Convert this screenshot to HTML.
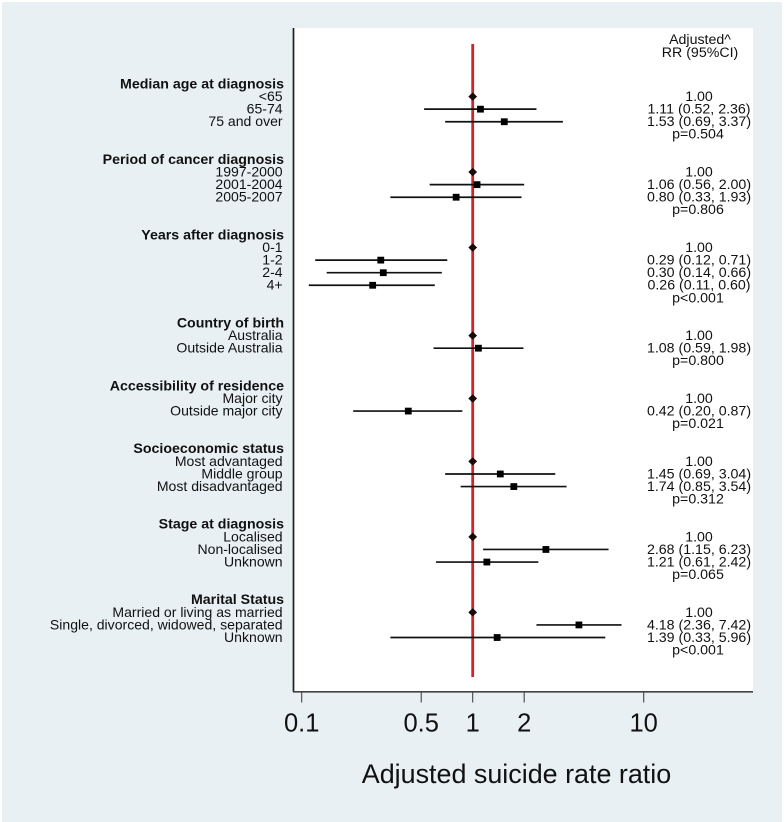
<!DOCTYPE html>
<html>
<head>
<meta charset="utf-8">
<title>Adjusted suicide rate ratio forest plot</title>
<style>
html,body{margin:0;padding:0;background:#fff}
svg{display:block;font-family:"Liberation Sans",Arial,sans-serif}
</style>
</head>
<body>
<svg id="chart" width="784" height="822" viewBox="0 0 784 822" xmlns="http://www.w3.org/2000/svg">
  <rect x="2" y="2" width="780" height="820" fill="#e8f0f3"/>
  <rect x="294" y="28" width="459" height="663" fill="#ffffff"/>
  <g id="marks"></g>
  <g id="labels"></g>
  <g id="axis"></g>
</svg>
<script>
const groupTitles = ["Median age at diagnosis","Period of cancer diagnosis","Years after diagnosis","Country of birth","Accessibility of residence","Socioeconomic status","Stage at diagnosis","Marital Status"];
const groupPValues = ["p=0.504","p=0.806","p<0.001","p=0.800","p=0.021","p=0.312","p=0.065","p<0.001"];
const rowLabels = [
  ["<65","65-74","75 and over"],
  ["1997-2000","2001-2004","2005-2007"],
  ["0-1","1-2","2-4","4+"],
  ["Australia","Outside Australia"],
  ["Major city","Outside major city"],
  ["Most advantaged","Middle group","Most disadvantaged"],
  ["Localised","Non-localised","Unknown"],
  ["Married or living as married","Single, divorced, widowed, separated","Unknown"]
];
const rateRatios = [
  [1.00,1.11,1.53],
  [1.00,1.06,0.80],
  [1.00,0.29,0.30,0.26],
  [1.00,1.08],
  [1.00,0.42],
  [1.00,1.45,1.74],
  [1.00,2.68,1.21],
  [1.00,4.18,1.39]
];
const ciLower = [
  [null,0.52,0.69],
  [null,0.56,0.33],
  [null,0.12,0.14,0.11],
  [null,0.59],
  [null,0.20],
  [null,0.69,0.85],
  [null,1.15,0.61],
  [null,2.36,0.33]
];
const ciUpper = [
  [null,2.36,3.37],
  [null,2.00,1.93],
  [null,0.71,0.66,0.60],
  [null,1.98],
  [null,0.87],
  [null,3.04,3.54],
  [null,6.23,2.42],
  [null,7.42,5.96]
];
const xTicks = [0.1,0.5,1,2,10];
const xTickLabels = ["0.1","0.5","1","2","10"];
const referenceValue = 1;

const NS = "http://www.w3.org/2000/svg";
const marks = document.getElementById("marks");
const labels = document.getElementById("labels");
const axis = document.getElementById("axis");

function xScale(v){ return 472.7 + 171 * Math.log10(v); }
function yRow(i){ return 84 + 12.58 * i; }

function make(parent, tag, attrs, txt){
  const el = document.createElementNS(NS, tag);
  for (const k in attrs) el.setAttribute(k, attrs[k]);
  if (txt !== undefined) el.textContent = txt;
  parent.appendChild(el);
  return el;
}
function slug(s){ return s.toLowerCase().replace(/[^a-z0-9]+/g,"-").replace(/^-|-$/g,""); }

const refLine = make(marks, "line", {x1:xScale(referenceValue), x2:xScale(referenceValue), y1:44, y2:677, stroke:"#d0242c", "stroke-width":2.8});



const FS = 14.2;
const ROW_FS = 14.05;
const LEFT_X = 282.6;
const RIGHT_X = 699;
const BASE = 4.4;

const head1 = make(labels, "text", {x:700, y:44, "text-anchor":"middle", "font-size":FS, fill:"#111"}, "Adjusted^");


const head2 = make(labels, "text", {x:700, y:57, "text-anchor":"middle", "font-size":FS, fill:"#111"}, "RR (95%CI)");



let row = 0;
groupTitles.forEach(function(title, g){
  const t = make(labels, "text", {x:284, y:yRow(row)+BASE, "text-anchor":"end", "font-size":FS, "font-weight":"bold", fill:"#111"}, title);
  
  
  row++;
  rowLabels[g].forEach(function(label, r){
    const y = yRow(row);
    const rr = rateRatios[g][r], lo = ciLower[g][r], hi = ciUpper[g][r];
    const tl = make(labels, "text", {x:LEFT_X, y:y+BASE, "text-anchor":"end", "font-size":ROW_FS, fill:"#111"}, label);
    
    
    const printed = lo === null ? rr.toFixed(2) : rr.toFixed(2) + " (" + lo.toFixed(2) + ", " + hi.toFixed(2) + ")";
    const tv = make(labels, "text", {x:RIGHT_X, y:y+BASE, "text-anchor":"middle", "font-size":FS, fill:"#111"}, printed);
    
    
    if (lo === null) {
      const cx = xScale(rr);
      const d = make(marks, "polygon", {points:(cx-4.4)+","+y+" "+cx+","+(y-4.2)+" "+(cx+4.4)+","+y+" "+cx+","+(y+4.2), fill:"#1c0a0a"});
      
      
    } else {
      const w = make(marks, "line", {x1:xScale(lo), x2:xScale(hi), y1:y, y2:y, stroke:"#111", "stroke-width":1.7});
      
      
      const s = make(marks, "rect", {x:xScale(rr)-3.4, y:y-3.4, width:6.8, height:6.8, fill:"#000"});
      
      
    }
    row++;
  });
  const p = make(labels, "text", {x:RIGHT_X-1, y:yRow(row)+BASE, "text-anchor":"middle", "font-size":FS, fill:"#111"}, groupPValues[g]);
  
  
  row += 2;
});

const yAxisLine = make(axis, "line", {x1:293.5, x2:293.5, y1:28, y2:692, stroke:"#1f1f1f", "stroke-width":1.7});


const xAxisLine = make(axis, "line", {x1:293, x2:753, y1:691.8, y2:691.8, stroke:"#444", "stroke-width":1.7});



xTicks.forEach(function(v, i){
  const x = xScale(v);
  const tick = make(axis, "line", {x1:x, x2:x, y1:692, y2:702.5, stroke:"#444", "stroke-width":1.1});
  
  
  const lab = make(axis, "text", {x:x, y:731.5, "text-anchor":"middle", "font-size":25.5, fill:"#111"}, xTickLabels[i]);
  
  
});

const xTitle = make(axis, "text", {x:516.5, y:783, "text-anchor":"middle", "font-size":26.9, fill:"#111"}, "Adjusted suicide rate ratio");


</script>
</body>
</html>
